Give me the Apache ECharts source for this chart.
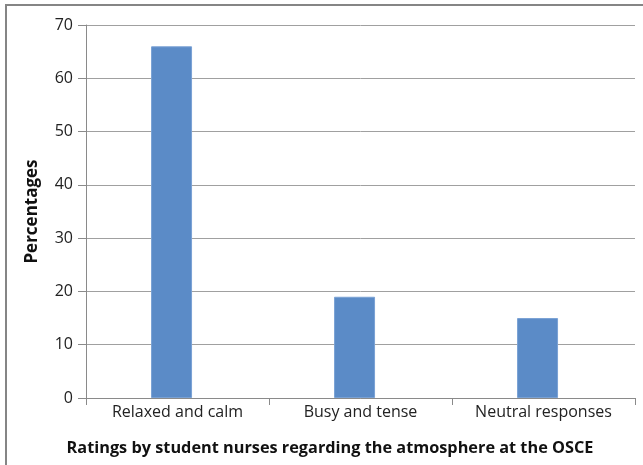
<!DOCTYPE html>
<html><head><meta charset="utf-8">
<script src="https://cdn.jsdelivr.net/npm/echarts@6/dist/echarts.min.js"></script>
<style>html,body{margin:0;padding:0;background:#fff}#c{width:643px;height:465px}</style>
</head><body><div id="c"></div>
<script>
const categories = ["Relaxed and calm", "Busy and tense", "Neutral responses"];
const percentages = [66, 19, 15];
const yTicks = [0, 10, 20, 30, 40, 50, 60, 70];
const yTitle = "Percentages";
const xTitle = "Ratings by student nurses regarding the atmosphere at the OSCE";

const chart = echarts.init(document.getElementById('c'), null, {renderer: 'canvas'});
const font = '"Open Sans", "Noto Sans", sans-serif';
chart.setOption({
  animation: false,
  backgroundColor: '#fff',
  grid: {left: 86, right: 8, top: 25, bottom: 67},
  graphic: [
    {type: 'rect', shape: {x: 6, y: 5, width: 700, height: 500},
     style: {fill: 'none', stroke: '#858585', lineWidth: 2}, silent: true},
    {type: 'text', x: 330, y: 448,
     style: {text: xTitle, font: 'bold 16.3px ' + font, fill: '#111',
             textAlign: 'center', textVerticalAlign: 'middle'}}
  ],
  xAxis: {
    type: 'category', data: categories,
    axisLine: {lineStyle: {color: '#8a8a8a', width: 1}},
    axisTick: {show: true, length: 7, lineStyle: {color: '#8a8a8a'}},
    axisLabel: {fontFamily: font, fontSize: 16, color: '#222', margin: 6}
  },
  yAxis: {
    type: 'value', min: yTicks[0], max: yTicks[yTicks.length - 1], interval: 10,
    name: yTitle, nameLocation: 'middle', nameGap: 45,
    nameTextStyle: {fontFamily: font, fontSize: 17, fontWeight: 'bold', color: '#111'},
    axisLine: {show: true, lineStyle: {color: '#8a8a8a'}},
    axisTick: {show: true, length: 8, lineStyle: {color: '#8a8a8a'}},
    axisLabel: {fontFamily: font, fontSize: 16, color: '#222', margin: 13},
    splitLine: {lineStyle: {color: '#a0a0a0', width: 1}}
  },
  series: [{
    type: 'bar', data: percentages, barWidth: 41, barGap: '-71%',
    itemStyle: {color: '#5b8bc7', borderColor: '#79a1d4', borderWidth: 1}
  }, {
    type: 'bar', data: categories.map(() => null), barWidth: 41, silent: true
  }]
});
</script></body></html>
